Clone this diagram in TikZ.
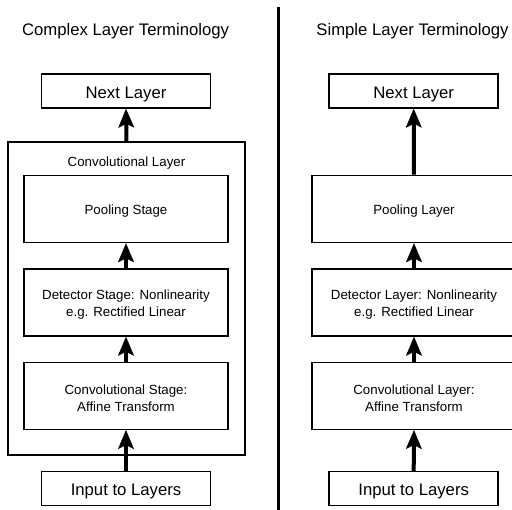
\documentclass[tikz,border=0pt]{standalone}
\usepackage{fontspec}
\setmainfont{Liberation Sans}
\usetikzlibrary{arrows.meta}
\begin{document}
\begin{tikzpicture}[x=1pt,y=-1pt,
  box/.style={draw,line width=1.5pt,inner sep=0pt,minimum width=204pt,minimum height=67pt},
  endbox/.style={draw,line width=1.5pt,inner sep=0pt,minimum width=169pt,minimum height=34pt},
  outerbox/.style={draw,line width=1.5pt,inner sep=0pt,minimum width=237pt,minimum height=313pt},
  bigtxt/.style={font=\fontsize{16.7}{20}\selectfont,inner sep=0pt},
  lbl/.style={font=\fontsize{13.3}{16.7}\selectfont,align=center,inner sep=0pt},
  flow/.style={line width=4pt,-{Stealth[length=19pt,width=16pt,inset=4pt,line width=0.5pt]}},
  divider/.style={line width=3pt}]
\fill[white] (0,0) rectangle (512,510);
\useasboundingbox (0,0) rectangle (512,510);

% titles
\node[bigtxt] (tl) at (125.5,31) {Complex Layer Terminology};
\node[bigtxt] (tr) at (412.5,31) {Simple Layer Terminology};

% divider
\coordinate (dtop) at (278.3,7);
\coordinate (dbot) at (278.3,515);
\draw[divider] (dtop) -- (dbot);

% left column boxes
\node[endbox] (lnext) at (126,91) {};
\node[outerbox] (lconv) at (126.5,298.5) {};
\node[box] (lpool) at (126,209) {};
\node[box] (ldet) at (126,302.5) {};
\node[box] (lcs) at (126,395.8) {};
\node[endbox] (linput) at (126,488.7) {};

% left column texts
\node[bigtxt] (lnextt) at ([yshift=-3pt]lnext.center) {Next Layer};
\node[lbl] (lconvlbl) at (126.5,162.6) {Convolutional Layer};
\node[lbl] (lpoolt) at ([yshift=-2.4pt]lpool.center) {Pooling Stage};
\node[lbl] (ldett) at ([yshift=-2.3pt]ldet.center) {Detector Stage: Nonlinearity\\e.g. Rectified Linear};
\node[lbl] (lcst) at ([yshift=-2.3pt]lcs.center) {Convolutional Stage:\\Affine Transform};
\node[bigtxt] (linputt) at ([yshift=-3pt]linput.center) {Input to Layers};

\draw[flow] (lconv.north) -- (lnext.south);
\draw[flow] (ldet.north) -- (lpool.south);
\draw[flow] (lcs.north) -- (ldet.south);
\draw[flow] (linput.north) -- (lcs.south);

% right column boxes
\node[endbox] (rnext) at (413.7,91) {};
\node[box] (rpool) at (414,209) {};
\node[box] (rdet) at (414,302.5) {};
\node[box] (rcs) at (414,395.8) {};
\node[endbox] (rinput) at (413.7,488.7) {};

% right column texts
\node[bigtxt] (rnextt) at ([yshift=-3pt]rnext.center) {Next Layer};
\node[lbl] (rpoolt) at ([yshift=-2.4pt]rpool.center) {Pooling Layer};
\node[lbl] (rdett) at ([yshift=-2.3pt]rdet.center) {Detector Layer: Nonlinearity\\e.g. Rectified Linear};
\node[lbl] (rcst) at ([yshift=-2.3pt]rcs.center) {Convolutional Layer:\\Affine Transform};
\node[bigtxt] (rinputt) at ([yshift=-3pt]rinput.center) {Input to Layers};

\draw[flow] (rpool.north) -- (rnext.south);
\draw[flow] (rdet.north) -- (rpool.south);
\draw[flow] (rcs.north) -- (rdet.south);
\draw[flow] (rinput.north) -- (rcs.south);
\end{tikzpicture}
\end{document}
